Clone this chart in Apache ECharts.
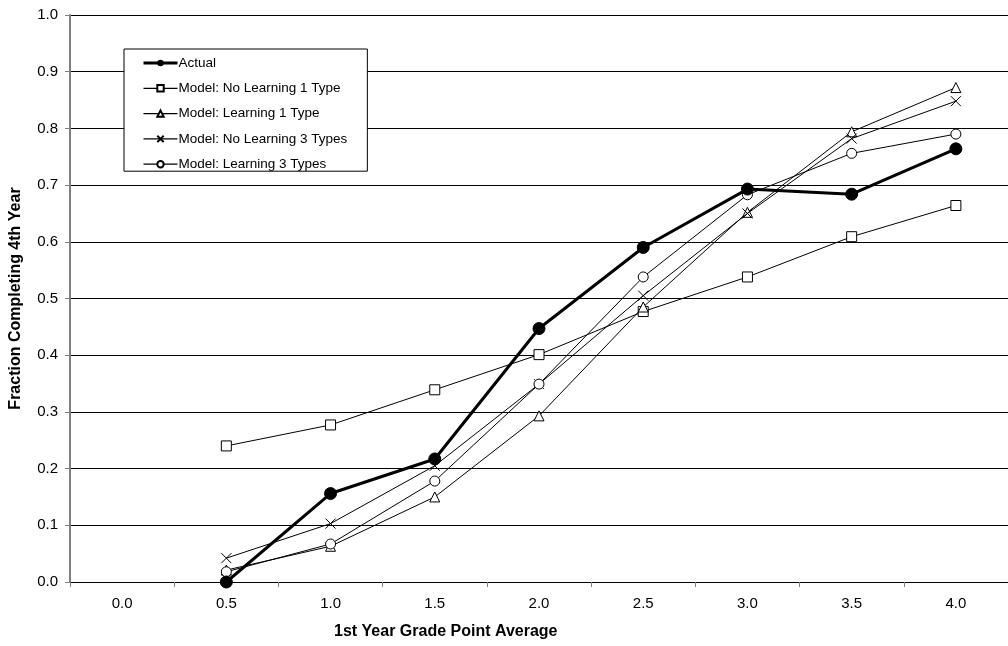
<!DOCTYPE html>
<html>
<head>
<meta charset="utf-8">
<script src="https://cdn.jsdelivr.net/npm/echarts@6/dist/echarts.min.js"></script>
<style>
html,body{margin:0;padding:0;background:#fff;}
#chart{width:1008px;height:646px;}
</style>
</head>
<body>
<div id="chart"></div>
<script>
const categories = ['0.0','0.5','1.0','1.5','2.0','2.5','3.0','3.5','4.0'];
const actual      = [null, 0.000, 0.156, 0.217, 0.447, 0.590, 0.693, 0.684, 0.764];
const noLearn1    = [null, 0.240, 0.277, 0.339, 0.401, 0.477, 0.538, 0.609, 0.664];
const learn1      = [null, 0.021, 0.063, 0.150, 0.293, 0.485, 0.652, 0.794, 0.872];
const noLearn3    = [null, 0.042, 0.103, 0.205, 0.349, 0.505, 0.650, 0.782, 0.848];
const learn3      = [null, 0.018, 0.067, 0.178, 0.349, 0.538, 0.683, 0.756, 0.790];
const seriesNames = ['Actual','Model: No Learning 1 Type','Model: Learning 1 Type','Model: No Learning 3 Types','Model: Learning 3 Types'];
const xTitle = '1st Year Grade Point Average';
const yTitle = 'Fraction Completing 4th Year';

const FONT = '"Liberation Sans", Arial, sans-serif';
const triPath = 'path://M0,10 L10,10 L5,1 Z';
const xPath = 'path://M0,0 L10,10 M10,0 L0,10';

function modelSeries(name, data, symbol, size, z) {
  return {
    name: name, type: 'line', data: data, z: z,
    symbol: symbol, symbolSize: size, showSymbol: true,
    lineStyle: {color: '#000', width: 1},
    itemStyle: {color: '#fff', borderColor: '#000', borderWidth: 1},
    emphasis: {disabled: true}
  };
}

const chart = echarts.init(document.getElementById('chart'));
chart.setOption({
  backgroundColor: '#fff',
  animation: false,
  grid: {left: 69, top: 15, width: 948, height: 567, containLabel: false},
  legend: {
    orient: 'vertical', left: 124, top: 49,
    data: seriesNames.map((n, i) => ({name: n, lineStyle: {width: i === 0 ? 3 : 1.3, color: '#000'}})),
    itemWidth: 34, itemHeight: 8, itemGap: 11.3,
    padding: [7, 20, 0, 18],
    backgroundColor: '#fff', borderColor: '#000', borderWidth: 1,
    textStyle: {fontFamily: FONT, fontSize: 13.5, color: '#000', padding: [0,0,0,-4]},
    selectedMode: false
  },
  xAxis: {
    type: 'category', data: categories, boundaryGap: true,
    axisLine: {lineStyle: {color: '#000', width: 1}},
    axisTick: {show: true, length: 5, inside: false, lineStyle: {color: '#808080'}},
    axisLabel: {fontFamily: FONT, fontSize: 15, color: '#000', margin: 14},
    splitLine: {show: false}
  },
  yAxis: {
    type: 'value', min: 0, max: 1, interval: 0.1,
    name: yTitle, nameLocation: 'middle', nameGap: 46,
    nameTextStyle: {fontFamily: FONT, fontSize: 16, fontWeight: 'bold', color: '#000'},
    axisLine: {show: true, lineStyle: {color: '#808080', width: 2}},
    axisTick: {show: true, length: 5, lineStyle: {color: '#808080'}},
    axisLabel: {fontFamily: FONT, fontSize: 15, color: '#000', margin: 12,
      formatter: v => v.toFixed(1)},
    splitLine: {show: true, lineStyle: {color: '#000', width: 1}}
  },
  graphic: [{
    type: 'text', left: 334, top: 624,
    style: {text: xTitle, font: 'bold 16px ' + FONT, fill: '#000'}
  }],
  series: [
    modelSeries(seriesNames[1], noLearn1, 'rect', 10, 2),
    modelSeries(seriesNames[2], learn1, triPath, 10, 3),
    modelSeries(seriesNames[3], noLearn3, xPath, 10, 4),
    modelSeries(seriesNames[4], learn3, 'circle', 10, 5),
    {
      name: seriesNames[0], type: 'line', data: actual, z: 10,
      symbol: 'circle', symbolSize: 12,
      lineStyle: {color: '#000', width: 3},
      itemStyle: {color: '#000', borderColor: '#000'},
      emphasis: {disabled: true}
    }
  ]
});
</script>
</body>
</html>
